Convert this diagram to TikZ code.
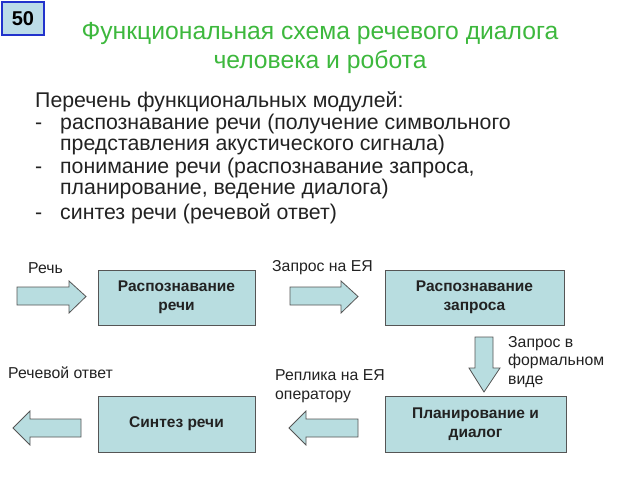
\documentclass[tikz,border=0pt]{standalone}
\usepackage{fontspec}
\setmainfont{Liberation Sans}
\definecolor{boxfill}{HTML}{B8DDE0}
\definecolor{boxline}{HTML}{555555}
\definecolor{titlegreen}{HTML}{3DB83D}
\definecolor{numfill}{HTML}{BCDCE8}
\definecolor{numline}{HTML}{2233CC}
\definecolor{txt}{HTML}{222222}
\begin{document}
\begin{tikzpicture}[x=1pt,y=-1pt,
  module/.style={draw=boxline,fill=boxfill,line width=1pt,inner sep=0pt,align=center,
     font=\fontsize{15.5}{19.5}\selectfont\bfseries,text=txt},
  blk/.style={draw=boxline,fill=boxfill,line width=0.8pt,line join=miter},
  lbl/.style={font=\fontsize{15.8}{18.5}\selectfont,text=txt,inner sep=0pt,align=left},
  body/.style={font=\fontsize{21.3}{22}\selectfont,text=txt,inner sep=0pt,anchor=base west}]
\useasboundingbox (0,0) rectangle (640,480);
\fill[white] (0,0) rectangle (640,480);
% number box
\node[draw=numline,fill=numfill,line width=1.6pt,minimum width=42pt,minimum height=33pt,
  inner sep=0pt,font=\fontsize{20}{22}\selectfont\bfseries,text=black] (num) at (23,18.5) {50};
% title
\node[font=\fontsize{24.7}{29}\selectfont,text=titlegreen,align=center,inner sep=0pt] (title) at (320,48)
  {Функциональная схема речевого диалога\\человека и робота};
% list
\node[body] (l0) at (35,107) {Перечень функциональных модулей:};
\node[body] (d1) at (35,129) {-};
\node[body] (l1) at (60,129) {распознавание речи (получение символьного};
\node[body] (l1b) at (60,150) {представления акустического сигнала)};
\node[body] (d2) at (35,173) {-};
\node[body] (l2) at (60,173) {понимание речи (распознавание запроса,};
\node[body] (l2b) at (60,194) {планирование, ведение диалога)};
\node[body] (d3) at (35,219) {-};
\node[body] (l3) at (60,219) {синтез речи (речевой ответ)};
% modules
\node[module,minimum width=157pt,minimum height=55pt] (m1) at (176.5,297.5) {Распознавание\\речи};
\node[module,minimum width=179pt,minimum height=55pt] (m2) at (474.5,297.5) {Распознавание\\запроса};
\node[module,minimum width=157pt,minimum height=56pt] (m3) at (176.5,424) {Синтез речи};
\node[module,minimum width=181pt,minimum height=56pt] (m4) at (475.5,424) {Планирование и\\диалог};
% block arrows
\draw[blk] (17,287) -- (69,287) -- (69,281) -- (86,296.5) -- (69,313) -- (69,305) -- (17,305) -- cycle;
\draw[blk] (290,287) -- (341,287) -- (341,281) -- (358,296.5) -- (341,313) -- (341,305) -- (290,305) -- cycle;
\draw[blk] (475,337) -- (493,337) -- (493,368) -- (500,368) -- (484,392) -- (469,368) -- (475,368) -- cycle;
\draw[blk] (81,419) -- (30,419) -- (30,411) -- (13,428) -- (30,445) -- (30,437) -- (81,437) -- cycle;
\draw[blk] (358,419) -- (306,419) -- (306,411) -- (289,428) -- (306,445) -- (306,437) -- (358,437) -- cycle;
% labels
\node[lbl,anchor=west] (t1) at (28,268) {Речь};
\node[lbl,anchor=west] (t2) at (272,268) {Запрос на ЕЯ};
\node[lbl,anchor=north west] (t3) at (508,336) {Запрос в\\формальном\\виде};
\node[lbl,anchor=west] (t4) at (8,373) {Речевой ответ};
\node[lbl,anchor=north west,font=\fontsize{15.8}{19}\selectfont] (t5) at (275,369) {Реплика на ЕЯ\\оператору};
\end{tikzpicture}
\end{document}
